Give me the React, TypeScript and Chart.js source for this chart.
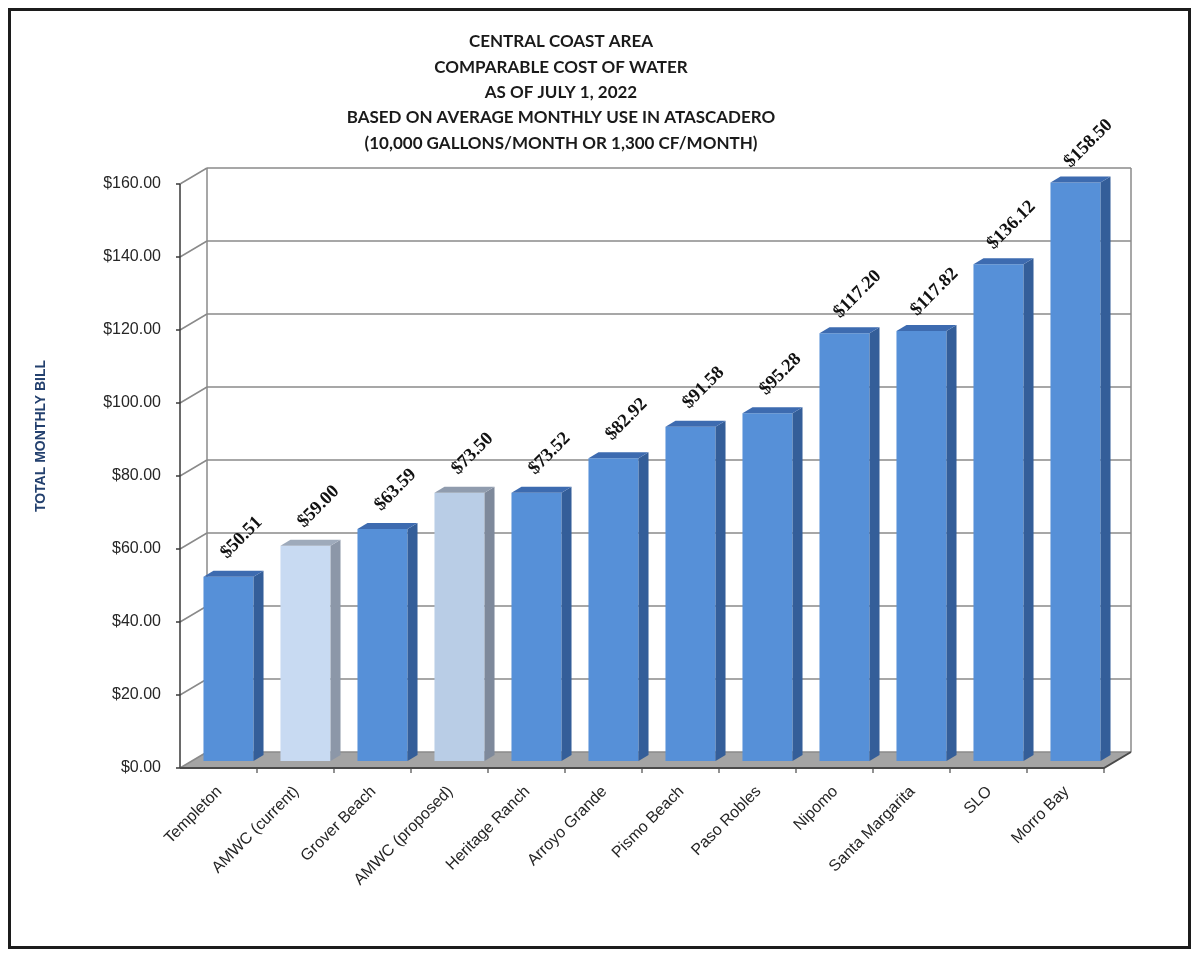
import { useEffect, useRef } from 'react';
import { Chart, registerables } from 'chart.js';

Chart.register(...registerables);

// Data
const cities = [
  'Templeton',
  'AMWC (current)',
  'Grover Beach',
  'AMWC (proposed)',
  'Heritage Ranch',
  'Arroyo Grande',
  'Pismo Beach',
  'Paso Robles',
  'Nipomo',
  'Santa Margarita',
  'SLO',
  'Morro Bay',
];
const monthlyBill = [50.51, 59.0, 63.59, 73.5, 73.52, 82.92, 91.58, 95.28, 117.2, 117.82, 136.12, 158.5];
const yTickValues = [0, 20, 40, 60, 80, 100, 120, 140, 160];
const titleLines = [
  'CENTRAL COAST AREA',
  'COMPARABLE COST OF WATER',
  'AS OF JULY 1, 2022',
  'BASED ON AVERAGE MONTHLY USE IN ATASCADERO',
  '(10,000 GALLONS/MONTH OR 1,300 CF/MONTH)',
];
const yAxisTitle = 'TOTAL MONTHLY BILL';

// 3D look: offsets of the front / back planes from the bar plane
const FRONT = { dx: -10, dy: 7 };
const BACK = { dx: 17, dy: -9 };
const BAR_DEPTH = { dx: 10, dy: -6 };

type Face = { front: string; side: string; top: string };
const blueFace: Face = { front: '#5690d8', side: '#345e99', top: '#3d6bb0' };
const specialFaces: Record<string, Face> = {
  'AMWC (current)': { front: '#c8daf2', side: '#8c97a8', top: '#9eaabb' },
  'AMWC (proposed)': { front: '#b9cde6', side: '#7e899b', top: '#909cae' },
};
const faceFor = (i: number) => specialFaces[cities[i]] || blueFace;

const money = (v: number) => '$' + v.toFixed(2);

const chart3d = {
  id: 'chart3d',
  beforeDatasetsDraw(chart: any) {
    const { ctx, chartArea: a, scales } = chart;
    const x = scales.x;
    const y = scales.y;
    const y0 = y.getPixelForValue(0);
    const yTop = y.getPixelForValue(yTickValues[yTickValues.length - 1]);
    ctx.save();

    // floor
    ctx.fillStyle = '#a4a4a4';
    ctx.beginPath();
    ctx.moveTo(a.left + FRONT.dx, y0 + FRONT.dy);
    ctx.lineTo(a.right + FRONT.dx, y0 + FRONT.dy);
    ctx.lineTo(a.right + BACK.dx, y0 + BACK.dy);
    ctx.lineTo(a.left + BACK.dx, y0 + BACK.dy);
    ctx.closePath();
    ctx.fill();

    // back wall grid + connectors to the front axis
    ctx.strokeStyle = '#8a8a8a';
    ctx.lineWidth = 1.5;
    for (const t of y.ticks) {
      const py = y.getPixelForValue(t.value);
      ctx.beginPath();
      ctx.moveTo(a.left + BACK.dx, py + BACK.dy);
      ctx.lineTo(a.right + BACK.dx, py + BACK.dy);
      ctx.moveTo(a.left + FRONT.dx, py + FRONT.dy);
      ctx.lineTo(a.left + BACK.dx, py + BACK.dy);
      ctx.stroke();
    }
    ctx.beginPath();
    ctx.moveTo(a.left + BACK.dx, yTop + BACK.dy);
    ctx.lineTo(a.left + BACK.dx, y0 + BACK.dy);
    ctx.moveTo(a.right + BACK.dx, yTop + BACK.dy);
    ctx.lineTo(a.right + BACK.dx, y0 + BACK.dy);
    ctx.stroke();

    // front value axis
    ctx.strokeStyle = '#3a3a3a';
    ctx.lineWidth = 1.5;
    ctx.beginPath();
    ctx.moveTo(a.left + FRONT.dx, yTop + FRONT.dy);
    ctx.lineTo(a.left + FRONT.dx, y0 + FRONT.dy);
    for (const t of y.ticks) {
      const py = y.getPixelForValue(t.value) + FRONT.dy;
      ctx.moveTo(a.left + FRONT.dx - 4, py);
      ctx.lineTo(a.left + FRONT.dx, py);
    }
    ctx.stroke();

    // front category axis edge
    ctx.strokeStyle = '#4a4a4a';
    ctx.lineWidth = 2;
    ctx.beginPath();
    ctx.moveTo(a.left + FRONT.dx, y0 + FRONT.dy);
    ctx.lineTo(a.right + FRONT.dx, y0 + FRONT.dy);
    ctx.lineTo(a.right + BACK.dx, y0 + BACK.dy);
    ctx.stroke();
    const half = (x.getPixelForValue(1) - x.getPixelForValue(0)) / 2;
    ctx.lineWidth = 1.2;
    ctx.beginPath();
    for (let i = 0; i < cities.length; i++) {
      const bx = x.getPixelForValue(i) + half + FRONT.dx;
      ctx.moveTo(bx, y0 + FRONT.dy);
      ctx.lineTo(bx, y0 + FRONT.dy + 5);
    }
    ctx.stroke();

    // value axis labels
    ctx.fillStyle = '#262626';
    ctx.font = '16px "Liberation Sans", Arial, sans-serif';
    ctx.textAlign = 'right';
    ctx.textBaseline = 'middle';
    for (const t of y.ticks) {
      const py = y.getPixelForValue(t.value) + FRONT.dy;
      ctx.fillText(money(t.value), a.left + FRONT.dx - 19, py);
    }

    // category labels
    ctx.font = '16px "Liberation Sans", Arial, sans-serif';
    ctx.textAlign = 'right';
    for (let i = 0; i < cities.length; i++) {
      const cx = x.getPixelForValue(i) + FRONT.dx;
      ctx.save();
      ctx.translate(cx + 1, y0 + FRONT.dy + 21);
      ctx.rotate(-Math.PI / 4);
      ctx.fillText(cities[i], 0, 0);
      ctx.restore();
    }
    ctx.restore();
  },
  afterDatasetsDraw(chart: any) {
    const { ctx } = chart;
    const meta = chart.getDatasetMeta(0);
    ctx.save();
    meta.data.forEach((bar: any, i: number) => {
      const { x, y, base, width } = bar.getProps(['x', 'y', 'base', 'width'], true);
      const l = x - width / 2;
      const r = x + width / 2;
      const f = faceFor(i);
      // side
      ctx.fillStyle = f.side;
      ctx.beginPath();
      ctx.moveTo(r, base);
      ctx.lineTo(r + BAR_DEPTH.dx, base + BAR_DEPTH.dy);
      ctx.lineTo(r + BAR_DEPTH.dx, y + BAR_DEPTH.dy);
      ctx.lineTo(r, y);
      ctx.closePath();
      ctx.fill();
      // top
      ctx.fillStyle = f.top;
      ctx.beginPath();
      ctx.moveTo(l, y);
      ctx.lineTo(l + BAR_DEPTH.dx, y + BAR_DEPTH.dy);
      ctx.lineTo(r + BAR_DEPTH.dx, y + BAR_DEPTH.dy);
      ctx.lineTo(r, y);
      ctx.closePath();
      ctx.fill();

      // value label
      ctx.fillStyle = '#111';
      ctx.font = 'bold 18.5px "Liberation Serif", "Times New Roman", serif';
      ctx.textAlign = 'center';
      ctx.textBaseline = 'middle';
      ctx.save();
      ctx.translate(x + 13, y - 39);
      ctx.rotate(-Math.PI / 4);
      ctx.fillText(money(monthlyBill[i]), 0, 0);
      ctx.restore();
    });
    ctx.restore();
  },
  afterDraw(chart: any) {
    const { ctx } = chart;
    ctx.save();
    ctx.fillStyle = '#1a1a1a';
    ctx.font = 'bold 17px Lato, "Open Sans", sans-serif';
    ctx.textAlign = 'center';
    ctx.textBaseline = 'middle';
    const longest = Math.max(...titleLines.map((t) => ctx.measureText(t).width));
    const squeeze = Math.min(1, 447 / longest);
    titleLines.forEach((t, i) => {
      ctx.fillText(t, 561, 42 + i * 25.3, ctx.measureText(t).width * squeeze);
    });

    ctx.fillStyle = '#23406e';
    ctx.font = 'bold 14px "Liberation Sans", Arial, sans-serif';
    ctx.translate(41, 436);
    ctx.rotate(-Math.PI / 2);
    ctx.fillText(yAxisTitle, 0, 0, 157);
    ctx.restore();
  },
};

export default function App() {
  const canvasRef = useRef<HTMLCanvasElement>(null);
  const chartRef = useRef<Chart | null>(null);

  useEffect(() => {
    if (!canvasRef.current) return;
    if (chartRef.current) chartRef.current.destroy();

    chartRef.current = new Chart(canvasRef.current, {
      type: 'bar',
      data: {
        labels: cities,
        datasets: [
          {
            data: monthlyBill,
            backgroundColor: (c: any) => faceFor(c.dataIndex).front,
            borderWidth: 0,
            barPercentage: 0.65,
            categoryPercentage: 1,
          },
        ],
      },
      options: {
        responsive: false,
        animation: false,
        devicePixelRatio: 1,
        layout: { padding: { left: 190, right: 86, top: 177, bottom: 200 } },
        scales: {
          x: { display: false },
          y: {
            display: false,
            min: 0,
            max: 160,
            afterBuildTicks: (axis: any) => {
              axis.ticks = yTickValues.map((v) => ({ value: v }));
            },
          },
        },
        plugins: {
          legend: { display: false },
          tooltip: { enabled: false },
          title: { display: false },
        },
      },
      plugins: [chart3d],
    });

    return () => {
      if (chartRef.current) {
        chartRef.current.destroy();
        chartRef.current = null;
      }
    };
  }, []);

  return (
    <div style={{ position: 'absolute', left: 0, top: 0, width: 1200, height: 961, background: '#fff' }}>
      <div
        style={{
          position: 'absolute',
          left: 8,
          top: 8,
          width: 1183,
          height: 941,
          boxSizing: 'border-box',
          border: '3px solid #1c1c1c',
        }}
      />
      <canvas ref={canvasRef} width={1200} height={961} style={{ position: 'absolute', left: 0, top: 0 }} />
    </div>
  );
}
